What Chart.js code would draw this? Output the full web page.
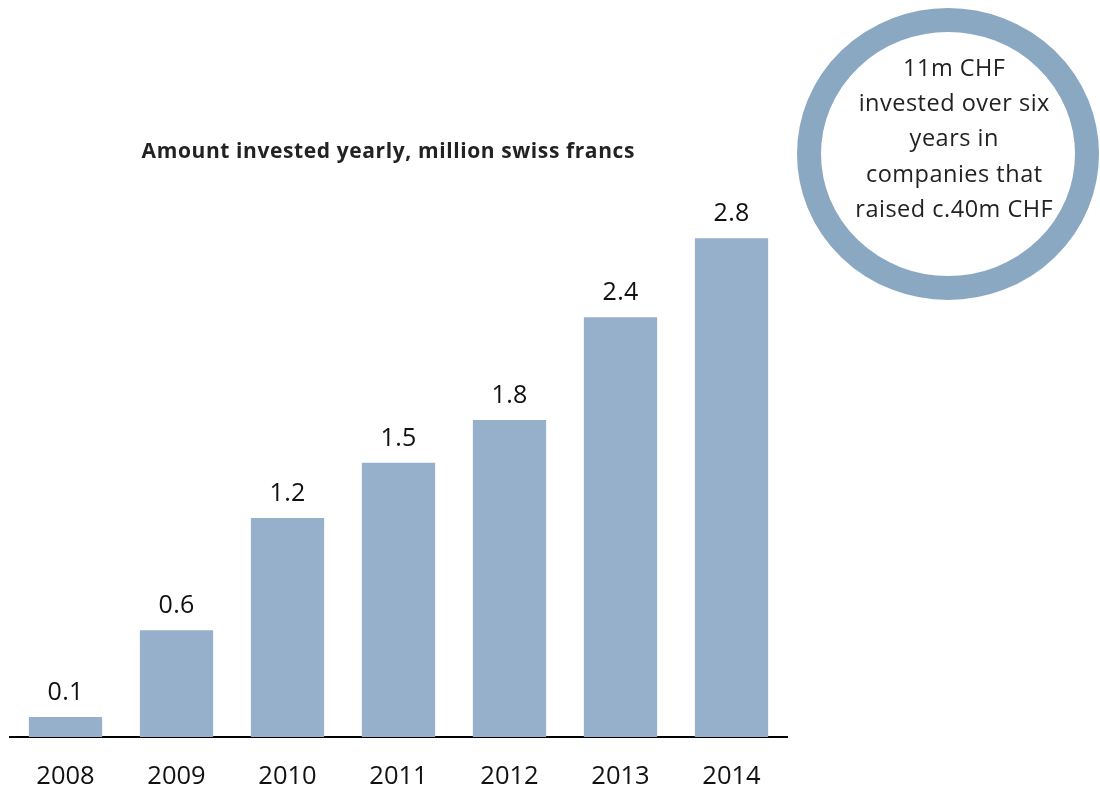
<!DOCTYPE html>
<html>
<head>
<meta charset="utf-8">
<script src="https://cdn.jsdelivr.net/npm/chart.js@4/dist/chart.umd.min.js"></script>
<style>
  html, body { margin: 0; padding: 0; background: #ffffff; }
  #wrap { width: 1100px; height: 793px; position: relative; }
</style>
</head>
<body>
<div id="wrap"><canvas id="c" width="1100" height="793"></canvas></div>
<script>
const categories = ['2008', '2009', '2010', '2011', '2012', '2013', '2014'];
const invested = [0.112, 0.60, 1.23, 1.54, 1.78, 2.357, 2.8];
const chartTitle = 'Amount invested yearly, million swiss francs';
const calloutLines = ['11m CHF', 'invested over six', 'years in', 'companies that', 'raised c.40m CHF'];

const FONT = '"Open Sans", Lato, "DejaVu Sans", sans-serif';

function drawSpaced(ctx, text, x, y, spacing) {
  if ('letterSpacing' in ctx) {
    ctx.letterSpacing = spacing + 'px';
    ctx.fillText(text, x + spacing / 2, y);
    ctx.letterSpacing = '0px';
  } else {
    ctx.fillText(text, x, y);
  }
}

const decor = {
  id: 'decor',
  afterDatasetsDraw(chart) {
    const ctx = chart.ctx;
    ctx.save();
    // value labels
    const meta = chart.getDatasetMeta(0);
    ctx.fillStyle = '#111111';
    ctx.font = '25px ' + FONT;
    ctx.textAlign = 'center';
    ctx.textBaseline = 'alphabetic';
    meta.data.forEach((bar, i) => {
      drawSpaced(ctx, invested[i].toFixed(1), bar.x, bar.y - 17, 0.3);
    });
    // title
    ctx.font = 'bold 21px ' + FONT;
    ctx.fillStyle = '#222222';
    drawSpaced(ctx, chartTitle, 388, 158, 0.6);
    // callout circle
    ctx.beginPath();
    ctx.ellipse(948, 154, 139, 134, 0, 0, Math.PI * 2);
    ctx.lineWidth = 24;
    ctx.strokeStyle = '#8aa8c2';
    ctx.stroke();
    ctx.fillStyle = '#222222';
    ctx.font = '23.5px ' + FONT;
    calloutLines.forEach((t, i) => {
      drawSpaced(ctx, t, 954, 76 + i * 35.2, 0.5);
    });
    ctx.restore();
  }
};

new Chart(document.getElementById('c'), {
  type: 'bar',
  data: {
    labels: categories,
    datasets: [{
      data: invested,
      backgroundColor: '#96afca',
      borderWidth: 0,
      categoryPercentage: 1,
      barPercentage: 0.66
    }]
  },
  options: {
    responsive: false,
    animation: false,
    layout: { padding: { top: 167, left: 10, right: 313, bottom: 0 } },
    plugins: { legend: { display: false }, tooltip: { enabled: false }, title: { display: false } },
    scales: {
      y: { display: false, min: 0, max: 3.2 },
      x: {
        grid: { display: false, drawTicks: false },
        border: { display: true, color: '#000000', width: 2 },
        ticks: { color: '#111111', font: { family: FONT, size: 25.5 }, padding: 24 },
        afterFit(scale) { scale.height = 56; }
      }
    }
  },
  plugins: [decor]
});
</script>
</body>
</html>
